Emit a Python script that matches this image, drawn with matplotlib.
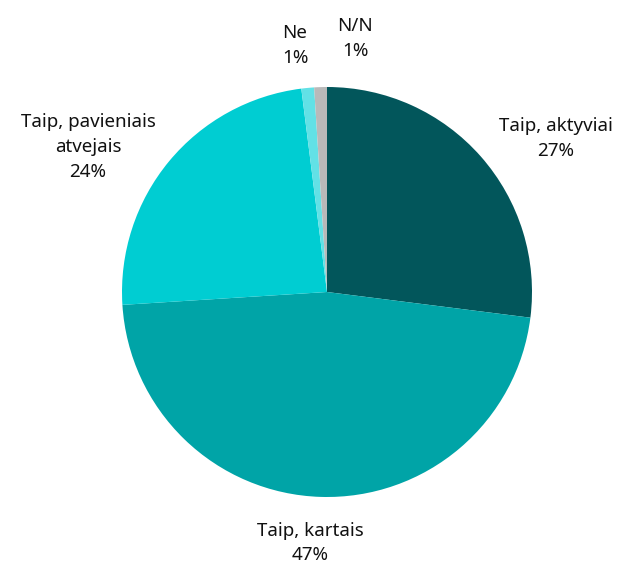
import matplotlib.pyplot as plt

labels = ['Taip, aktyviai', 'Taip, kartais', 'Taip, pavieniais\natvejais', 'Ne', 'N/N']
values = [27, 47, 24, 1, 1]
colors = ['#02565B', '#00A4A7', '#00CDD2', '#62E1E6', '#B9B9B9']

# label anchor points in pixel coords (x, y from top)
label_pos = [(556, 138), (310, 543), (88, 147), (295, 45), (355, 38)]

W, H = 621, 569
fig = plt.figure(figsize=(W / 100, H / 100), dpi=100)
ax = fig.add_axes([0, 0, 1, 1])

ax.pie(values, colors=colors, startangle=90, counterclock=False,
       center=(327, H - 292), radius=205, frame=True,
       wedgeprops=dict(linewidth=0))
ax.set_xlim(0, W)
ax.set_ylim(0, H)
ax.set_aspect('equal')
ax.axis('off')

for lab, v, (x, y) in zip(labels, values, label_pos):
    ax.text(x, H - y, f'{lab}\n{v}%', ha='center', va='center',
            fontsize=13.5, family='Noto Sans', linespacing=1.5, color='#111111')

plt.savefig('out.png', dpi=100)
